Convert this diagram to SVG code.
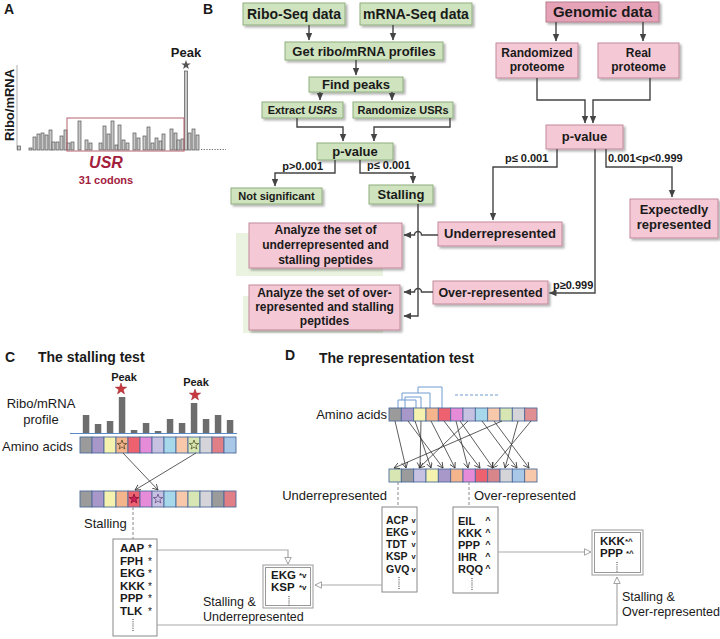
<svg xmlns="http://www.w3.org/2000/svg" width="720" height="639" viewBox="0 0 720 639">
<style>
text{font-family:"Liberation Sans",Arial,sans-serif;fill:#1a1a1a}
.b{font-weight:bold}
.m{text-anchor:middle}
.g{fill:#cfe3bf;stroke:#8fae7e;stroke-width:1}
.p{fill:#f4c8d5;stroke:#c18a9b;stroke-width:1}
.pd{fill:#e6a3b8;stroke:#b57a8d;stroke-width:1}
.sh{filter:url(#ds)}
.ar{fill:none;stroke:#444;stroke-width:1.4;marker-end:url(#ah)}
.ln{fill:none;stroke:#444;stroke-width:1.4}
.gl{fill:none;stroke:#aaa;stroke-width:1.2}
.ga{fill:none;stroke:#aaa;stroke-width:1.2;marker-end:url(#oa)}
.da{fill:none;stroke:#888;stroke-width:1;stroke-dasharray:3 2}
.dot{fill:none;stroke:#555;stroke-width:1.2;stroke-dasharray:1 1.2}
.bar{fill:#c9c9c9;stroke:#555;stroke-width:0.7}
.pb{fill:#6d6d6d}
.cell{stroke:#4d6b9b;stroke-width:0.9}
.sa{fill:none;stroke:#333;stroke-width:0.8;marker-end:url(#va)}
.lb{fill:#fff;stroke:#888;stroke-width:1}
.br{fill:none;stroke:#6f9bd1;stroke-width:1}
</style>
<defs>
<filter id="ds" x="-10%" y="-10%" width="130%" height="140%"><feDropShadow dx="2" dy="2" stdDeviation="1.2" flood-color="#000" flood-opacity="0.3"/></filter>
<marker id="ah" markerUnits="userSpaceOnUse" markerWidth="9" markerHeight="9" refX="7" refY="4" orient="auto"><path d="M0,0.8 L7.5,4 L0,7.2 z" fill="#444"/></marker>
<marker id="oa" markerUnits="userSpaceOnUse" markerWidth="10" markerHeight="10" refX="7" refY="4" orient="auto"><path d="M0.5,0.8 L7,4 L0.5,7.2 z" fill="#fff" stroke="#999" stroke-width="0.9"/></marker>
<marker id="va" markerUnits="userSpaceOnUse" markerWidth="8" markerHeight="8" refX="5.5" refY="3" orient="auto"><path d="M0,0 L5.5,3 L0,6" fill="none" stroke="#333" stroke-width="0.8"/></marker>
</defs>

<!-- Panel A -->
<g id="panelA">
<text x="4" y="14" class="b" font-size="14">A</text>
<line x1="17" y1="65" x2="17" y2="150" stroke="#999" stroke-width="0.8"/>
<text transform="translate(14,105) rotate(-90)" class="b m" font-size="13">Ribo/mRNA</text>
<g>
<rect class="bar" x="17.5" y="146" width="3" height="4"/>
<rect class="bar" x="29" y="148" width="3" height="2"/>
<rect class="bar" x="33" y="137" width="3" height="13"/>
<rect class="bar" x="37" y="134" width="3" height="16"/>
<rect class="bar" x="41" y="133" width="3" height="17"/>
<rect class="bar" x="45" y="135" width="3" height="15"/>
<rect class="bar" x="49" y="130" width="3" height="20"/>
<rect class="bar" x="52" y="142" width="3" height="8"/>
<rect class="bar" x="56" y="142" width="3" height="8"/>
<rect class="bar" x="60" y="136" width="3" height="14"/>
<rect class="bar" x="64" y="130" width="3" height="20"/>
<rect class="bar" x="67" y="143" width="3" height="7"/>
<rect class="bar" x="71" y="142" width="3" height="8"/>
<rect class="bar" x="78" y="121" width="3" height="29"/>
<rect class="bar" x="85" y="140" width="3" height="10"/>
<rect class="bar" x="89" y="143" width="3" height="7"/>
<rect class="bar" x="99" y="143" width="3" height="7"/>
<rect class="bar" x="103" y="126" width="3" height="24"/>
<rect class="bar" x="107" y="134" width="3" height="16"/>
<rect class="bar" x="111" y="121" width="3" height="29"/>
<rect class="bar" x="115" y="145" width="3" height="5"/>
<rect class="bar" x="118" y="125" width="3" height="25"/>
<rect class="bar" x="122" y="140" width="3" height="10"/>
<rect class="bar" x="126" y="143" width="3" height="7"/>
<rect class="bar" x="133" y="133" width="3" height="17"/>
<rect class="bar" x="137" y="138" width="3" height="12"/>
<rect class="bar" x="143" y="136" width="3" height="14"/>
<rect class="bar" x="147" y="127" width="3" height="23"/>
<rect class="bar" x="151" y="143" width="3" height="7"/>
<rect class="bar" x="155" y="138" width="3" height="12"/>
<rect class="bar" x="159" y="141" width="3" height="9"/>
<rect class="bar" x="162" y="134" width="3" height="16"/>
<rect class="bar" x="170" y="129" width="3" height="21"/>
<rect class="bar" x="174" y="133" width="3" height="17"/>
<rect class="bar" x="177" y="140" width="3" height="10"/>
<rect class="bar" x="181" y="139" width="3" height="11"/>
<rect class="bar" x="184.5" y="71" width="3" height="79"/>
<rect class="bar" x="188" y="133" width="3" height="17"/>
<rect class="bar" x="192" y="129" width="3" height="21"/>
<rect class="bar" x="196" y="135" width="3" height="15"/>
</g>
<line x1="201" y1="149.5" x2="226" y2="149.5" stroke="#666" stroke-width="1" stroke-dasharray="1.2 1.5"/>
<rect x="67" y="118" width="117" height="33" fill="none" stroke="#b5616f" stroke-width="1"/>
<polygon points="186,60 187.2,63.4 190.8,63.5 187.9,65.6 188.9,69 186,67 183.1,69 184.1,65.6 181.2,63.5 184.8,63.4" fill="#555"/>
<text x="186" y="57" class="b m" font-size="13">Peak</text>
<text x="106" y="168" class="b m" font-size="16" font-style="italic" style="fill:#a3203d">USR</text>
<text x="106" y="184" class="b m" font-size="11" style="fill:#a3203d">31 codons</text>
</g>

<!-- Panel B nodes -->
<text x="203" y="14" class="b" font-size="14">B</text>
<g id="ribo"><rect class="g sh" x="243" y="3" width="102" height="22"/><text x="294" y="19" class="b m" font-size="14">Ribo-Seq data</text></g>
<g id="mrna"><rect class="g sh" x="360" y="3" width="112" height="22"/><text x="416" y="19" class="b m" font-size="14">mRNA-Seq data</text></g>
<g id="getprof"><rect class="g sh" x="285" y="42" width="158" height="18"/><text x="364" y="56" class="b m" font-size="13">Get ribo/mRNA profiles</text></g>
<g id="findpeaks"><rect class="g sh" x="309" y="77" width="94" height="15"/><text x="356" y="89" class="b m" font-size="13">Find peaks</text></g>
<g id="extract"><rect class="g sh" x="262" y="102" width="81" height="16"/><text x="302.5" y="114" class="b m" font-size="11">Extract <tspan font-style="italic">USRs</tspan></text></g>
<g id="randusr"><rect class="g sh" x="353" y="102" width="100" height="16"/><text x="403" y="114" class="b m" font-size="11">Randomize USRs</text></g>
<g id="pval1"><rect class="g sh" x="317" y="143" width="76" height="17"/><text x="355" y="156" class="b m" font-size="13">p-value</text></g>
<g id="notsig"><rect class="g sh" x="231" y="188" width="91" height="16"/><text x="276.5" y="200" class="b m" font-size="11">Not significant</text></g>
<g id="stalling"><rect class="g sh" x="369" y="185" width="64" height="19"/><text x="401" y="199" class="b m" font-size="13">Stalling</text></g>

<g id="genomic"><rect class="pd sh" x="546" y="2" width="113" height="20"/><text x="602.5" y="17" class="b m" font-size="15">Genomic data</text></g>
<g id="randprot"><rect class="p sh" x="496" y="43" width="82" height="35"/><text x="537" y="57" class="b m" font-size="12">Randomized</text><text x="537" y="71" class="b m" font-size="12">proteome</text></g>
<g id="realprot"><rect class="p sh" x="598" y="43" width="81" height="35"/><text x="638.5" y="57" class="b m" font-size="12">Real</text><text x="638.5" y="71" class="b m" font-size="12">proteome</text></g>
<g id="pval2"><rect class="p sh" x="546" y="125" width="77" height="24"/><text x="584.5" y="141" class="b m" font-size="13">p-value</text></g>
<g id="expected"><rect class="p sh" x="630" y="199" width="88" height="39"/><text x="674" y="214" class="b m" font-size="13">Expectedly</text><text x="674" y="229" class="b m" font-size="13">represented</text></g>
<g id="under"><rect class="p sh" x="438" y="222" width="124" height="24"/><text x="500" y="238" class="b m" font-size="13">Underrepresented</text></g>
<g id="over"><rect class="p sh" x="433" y="281" width="115" height="23"/><text x="490.5" y="297" class="b m" font-size="12.5">Over-represented</text></g>
<g id="analyze1"><rect x="236" y="233" width="147" height="43" fill="#eaf2e0"/><rect class="p sh" x="249" y="223" width="153" height="45"/><text x="325.5" y="234" class="b m" font-size="12">Analyze the set of</text><text x="325.5" y="249" class="b m" font-size="12">underrepresented and</text><text x="325.5" y="264" class="b m" font-size="12">stalling peptides</text></g>
<g id="analyze2"><rect x="243" y="296" width="140" height="37" fill="#eaf2e0"/><rect class="p sh" x="249" y="285" width="151" height="45"/><text x="324.5" y="297" class="b m" font-size="12">Analyze the set of over-</text><text x="324.5" y="311" class="b m" font-size="12">represented and stalling</text><text x="324.5" y="325" class="b m" font-size="12">peptides</text></g>

<!-- Panel B connectors -->
<g id="connectorsB">
<path class="ar" d="M309 25 V40"/>
<path class="ar" d="M393 25 V40"/>
<path class="ar" d="M356 60 V75"/>
<path class="ar" d="M320 92 V100"/>
<path class="ar" d="M392 92 V100"/>
<path class="ar" d="M297 118 V127 H343 V141"/>
<path class="ar" d="M450 118 V127 H374 V141"/>
<path class="ar" d="M335 160 V173 H275 V186"/>
<path class="ar" d="M360 160 V173 H413 V183"/>
<path class="ar" d="M418 204 V316 H404"/>
<path class="ar" d="M438 235 H421.5 A3.5 3.5 0 0 0 414.5 235 H404"/>
<path class="ar" d="M433 292 H421.5 A3.5 3.5 0 0 0 414.5 292 H404"/>
<path class="ar" d="M556 22 V41"/>
<path class="ar" d="M643 22 V41"/>
<path class="ar" d="M537 78 V100 H585 V123"/>
<path class="ar" d="M650 78 V100 H593 V123"/>
<path class="ar" d="M557 149 V167 H493 V220"/>
<path class="ar" d="M595 149 V293 H549.5"/>
<path class="ar" d="M606 149 V167 H672 V197"/>
<text x="323" y="170" class="b" font-size="11" text-anchor="end">p&gt;0.001</text>
<text x="367" y="169" class="b" font-size="11">p≤ 0.001</text>
<text x="505" y="162" class="b" font-size="11">p≤ 0.001</text>
<text x="608" y="162" class="b" font-size="11">0.001&lt;p&lt;0.999</text>
<text x="553" y="289" class="b" font-size="11">p≥0.999</text>
</g>

<!-- Panel C -->
<g id="panelC">
<text x="5" y="362" class="b" font-size="14">C</text>
<text x="38" y="362" class="b" font-size="14">The stalling test</text>
<text x="41" y="408" class="m" font-size="13">Ribo/mRNA</text>
<text x="41" y="424" class="m" font-size="13">profile</text>
<text x="2" y="451" font-size="13">Amino acids</text>
<text x="124" y="381" class="b m" font-size="11">Peak</text>
<text x="196" y="386" class="b m" font-size="11">Peak</text>
<polygon points="121,383 122.4,387.1 126.7,387.1 123.3,389.7 124.5,393.9 121,391.4 117.5,393.9 118.7,389.7 115.3,387.1 119.6,387.1" fill="#c8393e" stroke="#a02a30" stroke-width="0.5"/>
<polygon points="195,389 196.4,393.1 200.7,393.1 197.3,395.7 198.5,399.9 195,397.4 191.5,399.9 192.7,395.7 189.3,393.1 193.6,393.1" fill="#c8393e" stroke="#a02a30" stroke-width="0.5"/>
<g>
<rect class="pb" x="82.8" y="415" width="6.5" height="18"/>
<rect class="pb" x="94.8" y="424" width="6.5" height="9"/>
<rect class="pb" x="106.8" y="421" width="6.5" height="12"/>
<rect class="pb" x="118.8" y="397" width="6.5" height="36"/>
<rect class="pb" x="130.8" y="430" width="6.5" height="3"/>
<rect class="pb" x="142.8" y="423" width="6.5" height="10"/>
<rect class="pb" x="154.8" y="431" width="6.5" height="2"/>
<rect class="pb" x="166.8" y="419" width="6.5" height="14"/>
<rect class="pb" x="178.8" y="423" width="6.5" height="10"/>
<rect class="pb" x="190.8" y="403" width="6.5" height="30"/>
<rect class="pb" x="202.8" y="419" width="6.5" height="14"/>
<rect class="pb" x="214.8" y="415" width="6.5" height="18"/>
<rect class="pb" x="226.8" y="420" width="6.5" height="13"/>
</g>
<line x1="70" y1="433.5" x2="237" y2="433.5" stroke="#5b8bc6" stroke-width="1.2"/>
<g>
<rect class="cell" x="80" y="437" width="12" height="16" fill="#9b9b9b"/>
<rect class="cell" x="92" y="437" width="12" height="16" fill="#a897c9"/>
<rect class="cell" x="104" y="437" width="12" height="16" fill="#f4f2ae"/>
<rect class="cell" x="116" y="437" width="12" height="16" fill="#f4b48c"/>
<rect class="cell" x="128" y="437" width="12" height="16" fill="#ee6270"/>
<rect class="cell" x="140" y="437" width="12" height="16" fill="#e58bd7"/>
<rect class="cell" x="152" y="437" width="12" height="16" fill="#c8c2e2"/>
<rect class="cell" x="164" y="437" width="12" height="16" fill="#a6d7ea"/>
<rect class="cell" x="176" y="437" width="12" height="16" fill="#f7c8aa"/>
<rect class="cell" x="188" y="437" width="12" height="16" fill="#d8e6b4"/>
<rect class="cell" x="200" y="437" width="12" height="16" fill="#d5d5d9"/>
<rect class="cell" x="212" y="437" width="12" height="16" fill="#e07f86"/>
<rect class="cell" x="224" y="437" width="12" height="16" fill="#a9c7e6"/>
</g>
<polygon points="122,440 123.2,443.4 126.8,443.5 123.9,445.6 124.9,449 122,447 119.1,449 120.1,445.6 117.2,443.5 120.8,443.4" fill="none" stroke="#5a4a2a" stroke-width="0.8"/>
<polygon points="194,440 195.2,443.4 198.8,443.5 195.9,445.6 196.9,449 194,447 191.1,449 192.1,445.6 189.2,443.5 192.8,443.4" fill="none" stroke="#5a5a2a" stroke-width="0.8"/>
<g>
<rect class="cell" x="80" y="491" width="12" height="16" fill="#9b9b9b"/>
<rect class="cell" x="92" y="491" width="12" height="16" fill="#a897c9"/>
<rect class="cell" x="104" y="491" width="12" height="16" fill="#f4f2ae"/>
<rect class="cell" x="116" y="491" width="12" height="16" fill="#f4b48c"/>
<rect class="cell" x="128" y="491" width="12" height="16" fill="#ee6270"/>
<rect class="cell" x="140" y="491" width="12" height="16" fill="#e58bd7"/>
<rect class="cell" x="152" y="491" width="12" height="16" fill="#c8c2e2"/>
<rect class="cell" x="164" y="491" width="12" height="16" fill="#a6d7ea"/>
<rect class="cell" x="176" y="491" width="12" height="16" fill="#f7c8aa"/>
<rect class="cell" x="188" y="491" width="12" height="16" fill="#d8e6b4"/>
<rect class="cell" x="200" y="491" width="12" height="16" fill="#d5d5d9"/>
<rect class="cell" x="212" y="491" width="12" height="16" fill="#9b9b9b"/>
<rect class="cell" x="224" y="491" width="12" height="16" fill="#e07f86"/>
</g>
<polygon points="134,494 135.2,497.4 138.8,497.5 135.9,499.6 136.9,503 134,501 131.1,503 132.1,499.6 129.2,497.5 132.8,497.4" fill="#d0205a" stroke="#701030" stroke-width="0.7"/>
<polygon points="158,494 159.2,497.4 162.8,497.5 159.9,499.6 160.9,503 158,501 155.1,503 156.1,499.6 153.2,497.5 156.8,497.4" fill="none" stroke="#6a4a8a" stroke-width="0.8"/>
<path class="sa" d="M123 453 L158 490"/>
<path class="sa" d="M196 453 L135 490"/>
<path class="da" d="M133 507 V539"/>
<text x="84" y="528" font-size="13">Stalling</text>
</g>

<g id="stallList">
<rect class="lb" x="113" y="539" width="44" height="97"/>
<text x="120" y="552" class="b" font-size="11.5">AAP</text>
<text x="120" y="564.5" class="b" font-size="11.5">FPH</text>
<text x="120" y="577" class="b" font-size="11.5">EKG</text>
<text x="120" y="589.5" class="b" font-size="11.5">KKK</text>
<text x="120" y="602" class="b" font-size="11.5">PPP</text>
<text x="120" y="614.5" class="b" font-size="11.5">TLK</text>
<text x="150" y="552" class="m" font-size="10">*</text>
<text x="150" y="564.5" class="m" font-size="10">*</text>
<text x="150" y="577" class="m" font-size="10">*</text>
<text x="150" y="589.5" class="m" font-size="10">*</text>
<text x="150" y="602" class="m" font-size="10">*</text>
<text x="150" y="614.5" class="m" font-size="10">*</text>
<path class="dot" d="M133 619 V631"/>
</g>

<!-- Panel D -->
<g id="panelD">
<text x="285" y="360" class="b" font-size="14">D</text>
<text x="319" y="363" class="b" font-size="14">The representation test</text>
<text x="387" y="419" font-size="13" text-anchor="end">Amino acids</text>
<path class="br" d="M398 408 V400 H416 V408"/>
<path class="br" d="M405 408 V397 H421 V408"/>
<path class="br" d="M402 400 V393 H430 V408"/>
<path class="br" d="M418 393 V387 H442 V408"/>
<line x1="455" y1="395" x2="498" y2="395" stroke="#6f9bd1" stroke-width="1" stroke-dasharray="3 2"/>
<g>
<rect class="cell" x="389" y="408" width="12.33" height="13" fill="#9b9b9b"/>
<rect class="cell" x="401.33" y="408" width="12.33" height="13" fill="#a897c9"/>
<rect class="cell" x="413.67" y="408" width="12.33" height="13" fill="#f4f2ae"/>
<rect class="cell" x="426" y="408" width="12.33" height="13" fill="#f4b48c"/>
<rect class="cell" x="438.33" y="408" width="12.33" height="13" fill="#ee6270"/>
<rect class="cell" x="450.67" y="408" width="12.33" height="13" fill="#e58bd7"/>
<rect class="cell" x="463" y="408" width="12.33" height="13" fill="#c8c2e2"/>
<rect class="cell" x="475.33" y="408" width="12.33" height="13" fill="#a6d7ea"/>
<rect class="cell" x="487.67" y="408" width="12.33" height="13" fill="#f7c8aa"/>
<rect class="cell" x="500" y="408" width="12.33" height="13" fill="#d8e6b4"/>
<rect class="cell" x="512.33" y="408" width="12.33" height="13" fill="#d5d5d9"/>
<rect class="cell" x="524.67" y="408" width="12.33" height="13" fill="#df8f92"/>
</g>
<g>
<rect class="cell" x="389" y="469" width="12.33" height="13" fill="#d8e6b4"/>
<rect class="cell" x="401.33" y="469" width="12.33" height="13" fill="#9b9b9b"/>
<rect class="cell" x="413.67" y="469" width="12.33" height="13" fill="#c8c2e2"/>
<rect class="cell" x="426" y="469" width="12.33" height="13" fill="#f4f2ae"/>
<rect class="cell" x="438.33" y="469" width="12.33" height="13" fill="#a897c9"/>
<rect class="cell" x="450.67" y="469" width="12.33" height="13" fill="#f4b48c"/>
<rect class="cell" x="463" y="469" width="12.33" height="13" fill="#e58bd7"/>
<rect class="cell" x="475.33" y="469" width="12.33" height="13" fill="#ee6270"/>
<rect class="cell" x="487.67" y="469" width="12.33" height="13" fill="#d9868a"/>
<rect class="cell" x="500" y="469" width="12.33" height="13" fill="#d5d5d9"/>
<rect class="cell" x="512.33" y="469" width="12.33" height="13" fill="#a9c8e8"/>
<rect class="cell" x="524.67" y="469" width="12.33" height="13" fill="#f7c8aa"/>
</g>
<g>
<path class="sa" d="M395 421 L406 468"/>
<path class="sa" d="M408 421 L443 468"/>
<path class="sa" d="M415 421 L431 468"/>
<path class="sa" d="M431 421 L455 468"/>
<path class="sa" d="M444 421 L480 468"/>
<path class="sa" d="M456 421 L468 468"/>
<path class="sa" d="M468 421 L419 468"/>
<path class="sa" d="M482 421 L517 468"/>
<path class="sa" d="M494 421 L529 468"/>
<path class="sa" d="M502 421 L394 468"/>
<path class="sa" d="M518 421 L505 468"/>
<path class="sa" d="M531 421 L492 468"/>
<path class="sa" d="M421 421 L420 468"/>
<path class="sa" d="M460 421 L493 468"/>
</g>
<path class="da" d="M398 482 V507"/>
<path class="da" d="M469 482 V507"/>
<text x="387" y="500" font-size="13" text-anchor="end">Underrepresented</text>
<text x="474" y="500" font-size="13">Over-represented</text>
</g>

<g id="underList">
<rect class="lb" x="382" y="507" width="35" height="85"/>
<text x="386" y="524" class="b" font-size="10.5">ACP</text>
<text x="386" y="536" class="b" font-size="10.5">EKG</text>
<text x="386" y="548" class="b" font-size="10.5">TDT</text>
<text x="386" y="560" class="b" font-size="10.5">KSP</text>
<text x="386" y="573" class="b" font-size="10.5">GVQ</text>
<text x="413.5" y="523" class="b m" font-size="7.5">v</text>
<text x="413.5" y="535" class="b m" font-size="7.5">v</text>
<text x="413.5" y="547" class="b m" font-size="7.5">v</text>
<text x="413.5" y="559" class="b m" font-size="7.5">v</text>
<text x="413.5" y="572" class="b m" font-size="7.5">v</text>
<path class="dot" d="M399 577 V589"/>
</g>

<g id="overList">
<rect class="lb" x="453" y="507" width="45" height="86"/>
<text x="458" y="525" class="b" font-size="11">EIL</text>
<text x="458" y="537" class="b" font-size="11">KKK</text>
<text x="458" y="549" class="b" font-size="11">PPP</text>
<text x="458" y="561" class="b" font-size="11">IHR</text>
<text x="458" y="573" class="b" font-size="11">RQQ</text>
<text x="488" y="523" class="b m" font-size="9">^</text>
<text x="488" y="535" class="b m" font-size="9">^</text>
<text x="488" y="547" class="b m" font-size="9">^</text>
<text x="488" y="559" class="b m" font-size="9">^</text>
<text x="488" y="571" class="b m" font-size="9">^</text>
<path class="dot" d="M472 578 V590"/>
</g>

<g id="stallUnder">
<rect fill="#fff" stroke="#999" stroke-width="1" x="263" y="565" width="50" height="43"/>
<rect fill="none" stroke="#999" stroke-width="1" x="265.5" y="567.5" width="45" height="38"/>
<text x="271" y="579" class="b" font-size="11.5">EKG</text>
<text x="271" y="591" class="b" font-size="11.5">KSP</text>
<text x="299" y="578" class="b" font-size="8">*v</text>
<text x="299" y="590" class="b" font-size="8">*v</text>
<path class="dot" d="M289 596 V606"/>
<text x="203" y="606" font-size="12.5">Stalling &amp;</text>
<text x="203" y="621" font-size="12.5">Underrepresented</text>
</g>

<g id="stallOver">
<rect fill="#fff" stroke="#999" stroke-width="1" x="592" y="530" width="51" height="45"/>
<rect fill="none" stroke="#999" stroke-width="1" x="594.5" y="532.5" width="46" height="40"/>
<text x="600" y="545" class="b" font-size="11.5">KKK</text>
<text x="600" y="557" class="b" font-size="11.5">PPP</text>
<text x="625" y="544" class="b" font-size="8">*^</text>
<text x="626" y="556" class="b" font-size="8">*^</text>
<path class="dot" d="M617 562 V572"/>
<text x="622" y="601" font-size="12.5">Stalling &amp;</text>
<text x="622" y="616" font-size="12.5">Over-represented</text>
</g>

<g id="connectorsCD">
<path class="ga" d="M157 550 H288 V564"/>
<path class="ga" d="M157 625 H617 V577"/>
<path class="ga" d="M382 585 H315"/>
<path class="ga" d="M498 552 H591"/>
</g>
</svg>
